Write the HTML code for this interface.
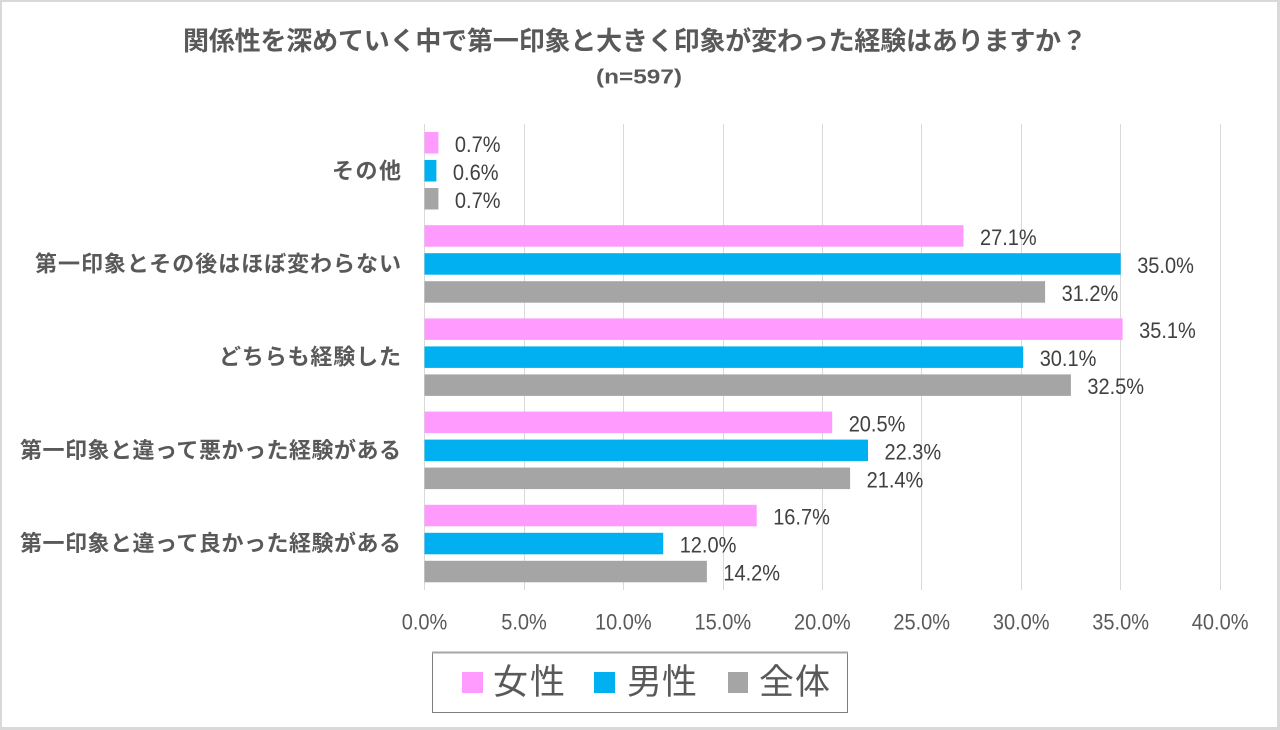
<!DOCTYPE html>
<html>
<head>
<meta charset="utf-8">
<style>
  html, body { margin:0; padding:0; background:#fff; }
  body { width:1280px; height:730px; overflow:hidden; }
  svg { display:block; }
  .jp { font-family: "Liberation Sans", "Noto Sans CJK JP", sans-serif; }
  .num { font-family: "Liberation Sans", sans-serif; }
</style>
</head>
<body>
<svg width="1280" height="730" viewBox="0 0 1280 730" xmlns="http://www.w3.org/2000/svg">
  <rect x="0" y="0" width="1280" height="730" fill="#ffffff"/>
  <!-- outer border -->
  <rect x="0" y="0" width="1280" height="2" fill="#d9d9d9"/>
  <rect x="0" y="0" width="2" height="730" fill="#d9d9d9"/>
  <rect x="1277" y="0" width="3" height="730" fill="#d9d9d9"/>
  <rect x="0" y="727" width="1280" height="3" fill="#d9d9d9"/>

  <!-- title -->
  <text class="jp" x="183" y="50" font-size="26" font-weight="bold" fill="#595959" textLength="904" lengthAdjust="spacing">関係性を深めていく中で第一印象と大きく印象が変わった経験はありますか？</text>
  <text class="num" x="596" y="83.5" font-size="20" font-weight="bold" fill="#595959" textLength="86" lengthAdjust="spacingAndGlyphs">(n=597)</text>

  <!-- gridlines -->
  <g stroke="#d9d9d9" stroke-width="1">
    <line x1="424.5" y1="124" x2="424.5" y2="590"/>
    <line x1="524.5" y1="124" x2="524.5" y2="590"/>
    <line x1="623.5" y1="124" x2="623.5" y2="590"/>
    <line x1="723.5" y1="124" x2="723.5" y2="590"/>
    <line x1="822.5" y1="124" x2="822.5" y2="590"/>
    <line x1="921.5" y1="124" x2="921.5" y2="590"/>
    <line x1="1021.5" y1="124" x2="1021.5" y2="590"/>
    <line x1="1120.5" y1="124" x2="1120.5" y2="590"/>
    <line x1="1220.5" y1="124" x2="1220.5" y2="590"/>
  </g>

  <!-- bars -->
  <g>
    <rect x="424.5" y="132" width="13.9" height="21.5" fill="#FF9BFF"/>
    <rect x="424.5" y="160" width="11.9" height="21.5" fill="#00B0F0"/>
    <rect x="424.5" y="188" width="13.9" height="21.5" fill="#A5A5A5"/>

    <rect x="424.5" y="225.2" width="539.0" height="21.5" fill="#FF9BFF"/>
    <rect x="424.5" y="253.2" width="696.2" height="21.5" fill="#00B0F0"/>
    <rect x="424.5" y="281.2" width="620.6" height="21.5" fill="#A5A5A5"/>

    <rect x="424.5" y="318.4" width="698.1" height="21.5" fill="#FF9BFF"/>
    <rect x="424.5" y="346.4" width="598.7" height="21.5" fill="#00B0F0"/>
    <rect x="424.5" y="374.4" width="646.4" height="21.5" fill="#A5A5A5"/>

    <rect x="424.5" y="411.6" width="407.7" height="21.5" fill="#FF9BFF"/>
    <rect x="424.5" y="439.6" width="443.5" height="21.5" fill="#00B0F0"/>
    <rect x="424.5" y="467.6" width="425.6" height="21.5" fill="#A5A5A5"/>

    <rect x="424.5" y="504.8" width="332.2" height="21.5" fill="#FF9BFF"/>
    <rect x="424.5" y="532.8" width="238.7" height="21.5" fill="#00B0F0"/>
    <rect x="424.5" y="560.8" width="282.4" height="21.5" fill="#A5A5A5"/>
  </g>

  <!-- data labels -->
  <g class="num" font-size="22" fill="#404040">
    <text x="454.9" y="151.8" textLength="45.6" lengthAdjust="spacingAndGlyphs">0.7%</text>
    <text x="452.9" y="179.8" textLength="45.6" lengthAdjust="spacingAndGlyphs">0.6%</text>
    <text x="454.9" y="207.8" textLength="45.6" lengthAdjust="spacingAndGlyphs">0.7%</text>

    <text x="980" y="245" textLength="56.7" lengthAdjust="spacingAndGlyphs">27.1%</text>
    <text x="1137.2" y="273" textLength="56.7" lengthAdjust="spacingAndGlyphs">35.0%</text>
    <text x="1061.6" y="301" textLength="56.7" lengthAdjust="spacingAndGlyphs">31.2%</text>

    <text x="1139.1" y="338.2" textLength="56.7" lengthAdjust="spacingAndGlyphs">35.1%</text>
    <text x="1039.7" y="366.2" textLength="56.7" lengthAdjust="spacingAndGlyphs">30.1%</text>
    <text x="1087.4" y="394.2" textLength="56.7" lengthAdjust="spacingAndGlyphs">32.5%</text>

    <text x="848.7" y="431.4" textLength="56.7" lengthAdjust="spacingAndGlyphs">20.5%</text>
    <text x="884.5" y="459.4" textLength="56.7" lengthAdjust="spacingAndGlyphs">22.3%</text>
    <text x="866.6" y="487.4" textLength="56.7" lengthAdjust="spacingAndGlyphs">21.4%</text>

    <text x="773.2" y="524.6" textLength="56.7" lengthAdjust="spacingAndGlyphs">16.7%</text>
    <text x="679.7" y="552.6" textLength="56.7" lengthAdjust="spacingAndGlyphs">12.0%</text>
    <text x="723.4" y="580.6" textLength="56.7" lengthAdjust="spacingAndGlyphs">14.2%</text>
  </g>

  <!-- category labels -->
  <g class="jp" font-size="22" font-weight="bold" fill="#595959">
    <text x="332" y="178.5" textLength="69" lengthAdjust="spacing">その他</text>
    <text x="35" y="271.5" textLength="366" lengthAdjust="spacing">第一印象とその後はほぼ変わらない</text>
    <text x="219" y="364.5" textLength="182" lengthAdjust="spacing">どちらも経験した</text>
    <text x="20" y="458" textLength="381" lengthAdjust="spacing">第一印象と違って悪かった経験がある</text>
    <text x="20" y="551" textLength="381" lengthAdjust="spacing">第一印象と違って良かった経験がある</text>
  </g>

  <!-- axis tick labels -->
  <g class="num" font-size="22" fill="#595959">
    <text x="401.7" y="629.5" textLength="45.6" lengthAdjust="spacingAndGlyphs">0.0%</text>
    <text x="501.2" y="629.5" textLength="45.6" lengthAdjust="spacingAndGlyphs">5.0%</text>
    <text x="595.0" y="629.5" textLength="56.7" lengthAdjust="spacingAndGlyphs">10.0%</text>
    <text x="694.5" y="629.5" textLength="56.7" lengthAdjust="spacingAndGlyphs">15.0%</text>
    <text x="794.0" y="629.5" textLength="56.7" lengthAdjust="spacingAndGlyphs">20.0%</text>
    <text x="893.4" y="629.5" textLength="56.7" lengthAdjust="spacingAndGlyphs">25.0%</text>
    <text x="992.9" y="629.5" textLength="56.7" lengthAdjust="spacingAndGlyphs">30.0%</text>
    <text x="1092.3" y="629.5" textLength="56.7" lengthAdjust="spacingAndGlyphs">35.0%</text>
    <text x="1191.8" y="629.5" textLength="56.7" lengthAdjust="spacingAndGlyphs">40.0%</text>
  </g>

  <!-- legend -->
  <rect x="432.5" y="652.5" width="415" height="60" fill="#ffffff" stroke="#7f7f7f" stroke-width="1"/>
  <rect x="432" y="651.5" width="416" height="2" fill="#a6a6a6"/>
  <rect x="462" y="672" width="21" height="21" fill="#FF9BFF"/>
  <rect x="594" y="672" width="21" height="21" fill="#00B0F0"/>
  <rect x="728" y="672" width="20" height="21" fill="#A5A5A5"/>
  <g class="jp" font-size="35" fill="#595959">
    <text x="493" y="694" textLength="72" lengthAdjust="spacing">女性</text>
    <text x="627" y="694" textLength="70" lengthAdjust="spacing">男性</text>
    <text x="759" y="694" textLength="71" lengthAdjust="spacing">全体</text>
  </g>
</svg>
</body>
</html>
